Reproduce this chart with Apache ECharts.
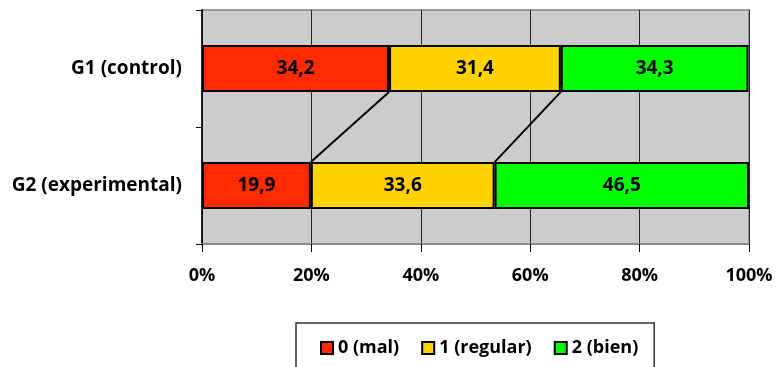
<!DOCTYPE html>
<html>
<head>
<meta charset="utf-8">
<script src="https://cdn.jsdelivr.net/npm/echarts@6/dist/echarts.min.js"></script>
<style>
  html, body { margin: 0; padding: 0; background: #fff; }
  #chart { width: 776px; height: 367px; }
</style>
</head>
<body>
<div id="chart"></div>
<script>
// Groups and the share (%) of each score level within each group
const groups = ['G1 (control)', 'G2 (experimental)'];
const levelNames = ['0 (mal)', '1 (regular)', '2 (bien)'];
const mal = [34.2, 19.9];
const regular = [31.4, 33.6];
const bien = [34.3, 46.5];
const xTicks = [0, 20, 40, 60, 80, 100];

const levelColors = ['#ff2a00', '#ffd200', '#00ff00'];
const levels = [mal, regular, bien];

// Cumulative boundaries between segments, used for the connector lines
const boundaries = [];
let acc1 = 0, acc2 = 0;
for (let i = 0; i < levels.length - 1; i++) {
  acc1 += levels[i][0];
  acc2 += levels[i][1];
  boundaries.push([+acc1.toFixed(1), +acc2.toFixed(1), 0]);
}

const font = '"Open Sans", "Liberation Sans", sans-serif';

const barSeries = levels.map((vals, i) => ({
  name: levelNames[i],
  type: 'bar',
  stack: 'total',
  barWidth: '40%',
  data: vals,
  itemStyle: { color: levelColors[i], borderColor: '#000', borderWidth: 2 },
  label: {
    show: true,
    position: 'inside',
    color: '#000',
    fontFamily: font,
    fontWeight: 'bold',
    fontSize: 19,
    formatter: p => p.value.toFixed(1).replace('.', ',')
  },
  z: 3
}));

const connectorSeries = {
  name: 'connectors',
  type: 'custom',
  data: boundaries,
  encode: { x: [0, 1], y: 2 },
  silent: true,
  z: 4,
  renderItem(params, api) {
    const top = api.coord([api.value(0), 0]);
    const bottom = api.coord([api.value(1), 1]);
    const half = api.size([0, 1])[1] * 0.2;
    return {
      type: 'line',
      shape: { x1: top[0], y1: top[1] + half, x2: bottom[0], y2: bottom[1] - half },
      style: { stroke: '#000', lineWidth: 2 }
    };
  }
};

const chart = echarts.init(document.getElementById('chart'), null, { renderer: 'canvas' });
chart.setOption({
  animation: false,
  backgroundColor: '#fff',
  grid: {
    left: 202, right: 27, top: 10, bottom: 123,
    show: true,
    backgroundColor: '#cccccc',
    borderColor: '#9a9a9a',
    borderWidth: 2
  },
  legend: {
    data: levelNames,
    left: 296,
    top: 323,
    width: 340,
    padding: [16, 16, 30, 24],
    borderColor: '#333',
    borderWidth: 1.5,
    itemWidth: 12,
    itemHeight: 12,
    itemGap: 22,
    icon: 'rect',
    textStyle: { color: '#000', fontFamily: font, fontWeight: 'bold', fontSize: 18 }
  },
  xAxis: {
    type: 'value',
    min: 0,
    max: 100,
    interval: 20,
    axisLine: { show: true, lineStyle: { color: '#888', width: 2 } },
    axisTick: { show: true, length: 8, lineStyle: { color: '#000' } },
    splitLine: { show: true, lineStyle: { color: '#222', width: 1 } },
    axisLabel: {
      margin: 23,
      color: '#000',
      fontFamily: font,
      fontWeight: 'bold',
      fontSize: 18,
      formatter: v => xTicks.includes(v) ? v + '%' : ''
    }
  },
  yAxis: {
    type: 'category',
    data: groups,
    inverse: true,
    axisLine: { show: true, lineStyle: { color: '#000', width: 1.5 } },
    axisTick: { show: true, length: 6, lineStyle: { color: '#000' } },
    axisLabel: {
      margin: 20,
      color: '#000',
      fontFamily: font,
      fontWeight: 'bold',
      fontSize: 19
    }
  },
  series: [...barSeries, connectorSeries]
});
</script>
</body>
</html>
